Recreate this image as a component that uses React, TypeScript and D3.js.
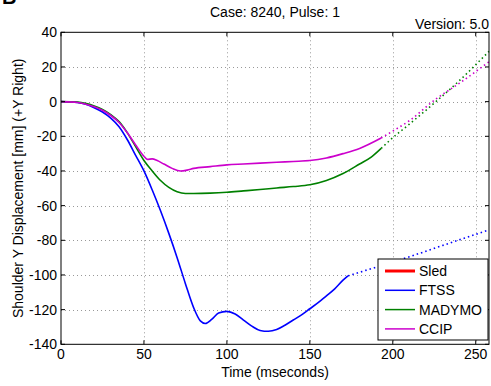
import * as d3 from "d3";

const ftssTime = [0, 10, 15, 20, 25, 30, 35, 40, 45, 50, 55, 60, 65, 70, 75, 80, 84, 87, 91, 95, 100, 105, 110, 115, 120, 125, 130, 135, 140, 145, 150, 155, 160, 165, 170, 173];
const ftssValue = [0, -0.5, -1.5, -3.5, -6, -9.5, -14.5, -22, -31, -40, -51, -63, -76, -90, -105, -119, -126.5, -128, -125.5, -122, -121, -122.5, -126, -129.5, -132, -132.5, -131.5, -129, -126, -123, -119.5, -116, -112, -108, -103, -100.5];
const ftssTailTime = [173, 190, 210, 230, 258];
const ftssTailValue = [-100.5, -95.5, -89.5, -83, -74];

const madymoTime = [0, 10, 20, 25, 30, 35, 40, 45, 50, 55, 60, 65, 70, 75, 80, 90, 100, 110, 120, 130, 140, 150, 160, 170, 180, 187, 193];
const madymoValue = [0, -0.3, -2.5, -4.5, -7.5, -11.5, -18, -26, -34, -40, -45.5, -49.5, -52, -53, -53, -52.8, -52.3, -51.5, -50.7, -49.8, -49, -48, -45.5, -41.5, -36, -32, -27];
const madymoTailTime = [193, 198, 210, 226, 240, 258];
const madymoTailValue = [-27, -22.5, -13, 0, 12, 29];

const ccipTime = [0, 10, 20, 25, 30, 35, 40, 45, 50, 52, 55, 58, 62, 67, 72, 76, 80, 90, 100, 110, 120, 130, 140, 150, 160, 170, 180, 193];
const ccipValue = [0, -0.5, -3, -5, -8, -12, -18, -25, -31.5, -33.3, -33, -34, -36, -38.5, -40, -39.5, -38.5, -37.5, -36.5, -36, -35.5, -35, -34.5, -34, -32.5, -30, -27, -21];
const ccipTailTime = [193, 200, 210, 226, 240, 258];
const ccipTailValue = [-21, -17, -11, 1.5, 10.5, 23];

const xTicks = [0, 50, 100, 150, 200, 250];
const yTicks = [40, 20, 0, -20, -40, -60, -80, -100, -120, -140];
const legendNames = ["Sled", "FTSS", "MADYMO", "CCIP"];
const legendColors = ["#ff0000", "#0000ff", "#008000", "#cc00cc"];
const legendWidths = [3, 1.5, 1.5, 1.5];

const W = 491;
const H = 386;
const left = 61;
const right = 489;
const top = 32.3;
const bottom = 344.3;
const font = "'Liberation Sans', Arial, sans-serif";

const App = () => {
  const x = d3.scaleLinear().domain([0, 258]).range([left, right]);
  const y = d3.scaleLinear().domain([-140, 40]).range([bottom, top]);

  const line = d3
    .line<[number, number]>()
    .x((d) => x(d[0]))
    .y((d) => y(d[1]))
    .curve(d3.curveMonotoneX);

  const path = (t: number[], v: number[]) => line(t.map((d, i) => [d, v[i]]) as [number, number][]) as string;

  const series = [
    { t: ftssTime, v: ftssValue, tt: ftssTailTime, tv: ftssTailValue, color: legendColors[1] },
    { t: madymoTime, v: madymoValue, tt: madymoTailTime, tv: madymoTailValue, color: legendColors[2] },
    { t: ccipTime, v: ccipValue, tt: ccipTailTime, tv: ccipTailValue, color: legendColors[3] },
  ];

  const lx = 378;
  const ly = 259;

  return (
    <svg width={W} height={H} style={{ position: "absolute", left: 0, top: 0 }} fontFamily={font}>
      <rect width={W} height={H} fill="#fff" />
      <text x={2} y={4} fontSize={20} fontWeight="bold">B</text>
      <text x={(left + right) / 2} y={17} fontSize={14} textAnchor="middle">Case: 8240, Pulse: 1</text>
      <text x={right} y={29} fontSize={14} textAnchor="end">Version: 5.0</text>

      <g id="grid" stroke="#999" strokeWidth={1} strokeDasharray="1,3">
        {xTicks.filter((d) => d > 0).map((d) => (
          <line key={"gx" + d} x1={Math.round(x(d)) + 0.5} x2={Math.round(x(d)) + 0.5} y1={top} y2={bottom} />
        ))}
        {yTicks.filter((d) => d > -140 && d < 40).map((d) => (
          <line key={"gy" + d} x1={left} x2={right} y1={Math.round(y(d)) + 0.5} y2={Math.round(y(d)) + 0.5} />
        ))}
      </g>

      <g id="lines" fill="none">
        {series.map((s, i) => (
          <g key={i}>
            <path d={path(s.t, s.v)} stroke={s.color} strokeWidth={1.6} />
            <path d={path(s.tt, s.tv)} stroke={s.color} strokeWidth={1.6} strokeDasharray="1.5,3" />
          </g>
        ))}
      </g>

      <g id="axes" stroke="#000" strokeWidth={1}>
        <rect x={left} y={top} width={right - left} height={bottom - top} fill="none" />
        {xTicks.map((d) => (
          <g key={"tx" + d}>
            <line x1={x(d)} x2={x(d)} y1={bottom} y2={bottom - 4} />
            <line x1={x(d)} x2={x(d)} y1={top} y2={top + 4} />
          </g>
        ))}
        {yTicks.map((d) => (
          <g key={"ty" + d}>
            <line x1={left} x2={left + 4} y1={y(d)} y2={y(d)} />
            <line x1={right} x2={right - 4} y1={y(d)} y2={y(d)} />
          </g>
        ))}
      </g>

      <g id="tick-labels" fontSize={14} fill="#000">
        {xTicks.map((d) => (
          <text key={"lx" + d} x={x(d)} y={359} textAnchor="middle">{d}</text>
        ))}
        {yTicks.map((d) => (
          <text key={"ly" + d} x={57} y={y(d) + 5} textAnchor="end">{d}</text>
        ))}
      </g>

      <text x={(left + right) / 2} y={377} fontSize={14} textAnchor="middle">Time (mseconds)</text>
      <text transform={`translate(23,${(top + bottom) / 2}) rotate(-90)`} fontSize={14} textAnchor="middle">
        Shoulder Y Displacement [mm] (+Y Right)
      </text>

      <g id="legend">
        <rect x={lx} y={ly} width={110} height={81} fill="#fff" stroke="#000" strokeWidth={1} />
        {legendNames.map((n, i) => (
          <g key={n} transform={`translate(${lx},${ly + 12 + i * 19.3})`}>
            <line x1={7} x2={37} y1={0} y2={0} stroke={legendColors[i]} strokeWidth={legendWidths[i]} />
            <text x={41} y={5} fontSize={14}>{n}</text>
          </g>
        ))}
      </g>
    </svg>
  );
};

export default App;
